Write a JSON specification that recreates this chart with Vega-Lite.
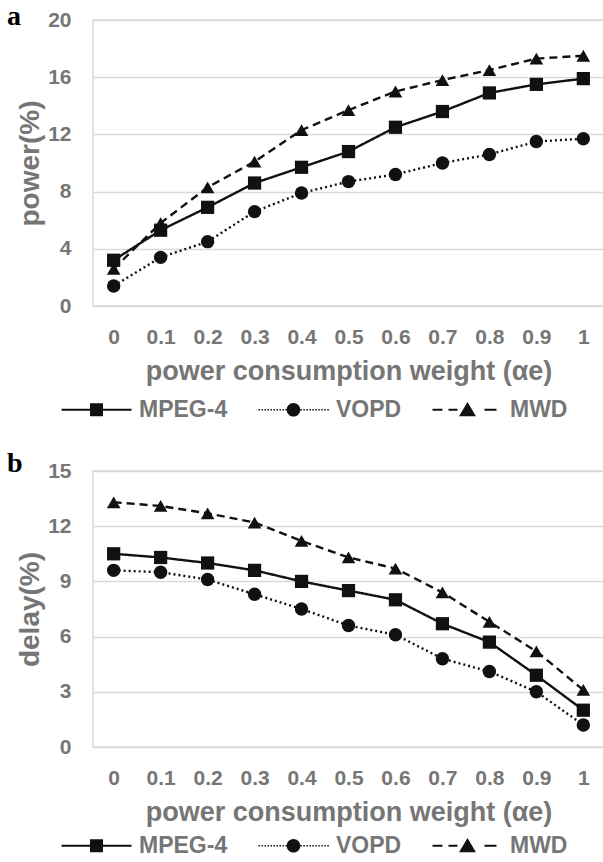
{
  "$schema": "https://vega.github.io/schema/vega-lite/v6.json",
  "background": "white",
  "padding": {"left": 6, "top": 2, "right": 0, "bottom": 0},
  "config": {
    "font": "Liberation Sans",
    "view": {"stroke": "#d9d9d9", "strokeWidth": 1.5},
    "concat": {"spacing": 26},
    "axis": {
      "labelFont": "Liberation Sans", "labelFontSize": 21, "labelFontWeight": "bold", "labelColor": "#767676",
      "titleFont": "Liberation Sans", "titleFontSize": 28, "titleFontWeight": "bold", "titleColor": "#767676",
      "domain": false, "ticks": false, "grid": false
    },
    "axisY": {"grid": true, "gridColor": "#d9d9d9", "gridWidth": 1.5, "labelPadding": 22, "titlePadding": 3},
    "axisX": {"labelPadding": 20, "titlePadding": 11, "labelAngle": 0, "titleFontSize": 27},
    "legend": {
      "labelFont": "Liberation Sans", "labelFontSize": 23, "labelFontWeight": "bold", "labelColor": "#767676",
      "padding": 0, "labelLimit": 300
    }
  },
  "datasets": {
    "power": [
      {"w": 0, "s": "MPEG-4", "v": 3.2}, {"w": 0.1, "s": "MPEG-4", "v": 5.3}, {"w": 0.2, "s": "MPEG-4", "v": 6.9}, {"w": 0.3, "s": "MPEG-4", "v": 8.6}, {"w": 0.4, "s": "MPEG-4", "v": 9.7}, {"w": 0.5, "s": "MPEG-4", "v": 10.8}, {"w": 0.6, "s": "MPEG-4", "v": 12.5}, {"w": 0.7, "s": "MPEG-4", "v": 13.6}, {"w": 0.8, "s": "MPEG-4", "v": 14.9}, {"w": 0.9, "s": "MPEG-4", "v": 15.5}, {"w": 1, "s": "MPEG-4", "v": 15.9},
      {"w": 0, "s": "VOPD", "v": 1.4}, {"w": 0.1, "s": "VOPD", "v": 3.4}, {"w": 0.2, "s": "VOPD", "v": 4.5}, {"w": 0.3, "s": "VOPD", "v": 6.6}, {"w": 0.4, "s": "VOPD", "v": 7.9}, {"w": 0.5, "s": "VOPD", "v": 8.7}, {"w": 0.6, "s": "VOPD", "v": 9.2}, {"w": 0.7, "s": "VOPD", "v": 10.0}, {"w": 0.8, "s": "VOPD", "v": 10.6}, {"w": 0.9, "s": "VOPD", "v": 11.5}, {"w": 1, "s": "VOPD", "v": 11.7},
      {"w": 0, "s": "MWD", "v": 2.6}, {"w": 0.1, "s": "MWD", "v": 5.8}, {"w": 0.2, "s": "MWD", "v": 8.3}, {"w": 0.3, "s": "MWD", "v": 10.1}, {"w": 0.4, "s": "MWD", "v": 12.3}, {"w": 0.5, "s": "MWD", "v": 13.7}, {"w": 0.6, "s": "MWD", "v": 15.0}, {"w": 0.7, "s": "MWD", "v": 15.8}, {"w": 0.8, "s": "MWD", "v": 16.5}, {"w": 0.9, "s": "MWD", "v": 17.3}, {"w": 1, "s": "MWD", "v": 17.5}
    ],
    "delay": [
      {"w": 0, "s": "MPEG-4", "v": 10.5}, {"w": 0.1, "s": "MPEG-4", "v": 10.3}, {"w": 0.2, "s": "MPEG-4", "v": 10.0}, {"w": 0.3, "s": "MPEG-4", "v": 9.6}, {"w": 0.4, "s": "MPEG-4", "v": 9.0}, {"w": 0.5, "s": "MPEG-4", "v": 8.5}, {"w": 0.6, "s": "MPEG-4", "v": 8.0}, {"w": 0.7, "s": "MPEG-4", "v": 6.7}, {"w": 0.8, "s": "MPEG-4", "v": 5.7}, {"w": 0.9, "s": "MPEG-4", "v": 3.9}, {"w": 1, "s": "MPEG-4", "v": 2.0},
      {"w": 0, "s": "VOPD", "v": 9.6}, {"w": 0.1, "s": "VOPD", "v": 9.5}, {"w": 0.2, "s": "VOPD", "v": 9.1}, {"w": 0.3, "s": "VOPD", "v": 8.3}, {"w": 0.4, "s": "VOPD", "v": 7.5}, {"w": 0.5, "s": "VOPD", "v": 6.6}, {"w": 0.6, "s": "VOPD", "v": 6.1}, {"w": 0.7, "s": "VOPD", "v": 4.8}, {"w": 0.8, "s": "VOPD", "v": 4.1}, {"w": 0.9, "s": "VOPD", "v": 3.0}, {"w": 1, "s": "VOPD", "v": 1.2},
      {"w": 0, "s": "MWD", "v": 13.3}, {"w": 0.1, "s": "MWD", "v": 13.1}, {"w": 0.2, "s": "MWD", "v": 12.7}, {"w": 0.3, "s": "MWD", "v": 12.2}, {"w": 0.4, "s": "MWD", "v": 11.2}, {"w": 0.5, "s": "MWD", "v": 10.3}, {"w": 0.6, "s": "MWD", "v": 9.7}, {"w": 0.7, "s": "MWD", "v": 8.4}, {"w": 0.8, "s": "MWD", "v": 6.8}, {"w": 0.9, "s": "MWD", "v": 5.2}, {"w": 1, "s": "MWD", "v": 3.1}
    ]
  },
  "vconcat": [
    {
      "width": 511, "height": 286,
      "title": {"text": "a", "anchor": "start", "frame": "group", "font": "Liberation Serif", "fontSize": 28, "fontWeight": "bold", "color": "#000000", "baseline": "alphabetic", "offset": 0, "dx": -86, "dy": 44},
      "data": {"name": "power"},
      "encoding": {
        "x": {"field": "w", "type": "ordinal", "scale": {"type": "point", "padding": 0.44}, "axis": {"title": "power consumption weight (αe)"}},
        "y": {"field": "v", "type": "quantitative", "scale": {"domain": [0, 20]}, "axis": {"values": [0, 4, 8, 12, 16, 20], "title": "power(%)"}}
      },
      "layer": [
        {
          "mark": {"type": "line", "color": "#111111", "strokeWidth": 2.4, "strokeCap": "butt"},
          "encoding": {"strokeDash": {"field": "s", "type": "nominal", "scale": {"domain": ["MPEG-4", "VOPD", "MWD"], "range": [[1, 0], [2, 3], [8, 5]]}, "legend": null}}
        },
        {
          "mark": {"type": "point", "filled": true, "color": "#111111", "opacity": 1},
          "encoding": {
            "shape": {"field": "s", "type": "nominal", "scale": {"domain": ["MPEG-4", "VOPD", "MWD"], "range": ["square", "circle", "triangle-up"]}, "legend": null},
            "size": {"field": "s", "type": "nominal", "scale": {"domain": ["MPEG-4", "VOPD", "MWD"], "range": [175, 185, 225]}, "legend": null}
          }
        },
        {
          "mark": {"type": "point", "filled": true, "color": "#111111", "opacity": 0},
          "encoding": {
            "shape": {"field": "s", "type": "nominal", "title": null,
              "scale": {"domain": ["MPEG-4", "VOPD", "MWD"], "range": [
                "M-5.38,-0.15H5.38V0.15H-5.38Z M-1,-1H1V1H-1Z",
                "M-5.38,-0.12h0.23v0.24h-0.23Z M-4.92,-0.12h0.23v0.24h-0.23Z M-4.46,-0.12h0.23v0.24h-0.23Z M-4,-0.12h0.23v0.24h-0.23Z M-3.54,-0.12h0.23v0.24h-0.23Z M-3.08,-0.12h0.23v0.24h-0.23Z M-2.62,-0.12h0.23v0.24h-0.23Z M-2.16,-0.12h0.23v0.24h-0.23Z M-1.7,-0.12h0.23v0.24h-0.23Z M-1.24,-0.12h0.23v0.24h-0.23Z M1.06,-0.12h0.23v0.24h-0.23Z M1.52,-0.12h0.23v0.24h-0.23Z M1.98,-0.12h0.23v0.24h-0.23Z M2.44,-0.12h0.23v0.24h-0.23Z M2.9,-0.12h0.23v0.24h-0.23Z M3.36,-0.12h0.23v0.24h-0.23Z M3.82,-0.12h0.23v0.24h-0.23Z M4.28,-0.12h0.23v0.24h-0.23Z M4.74,-0.12h0.23v0.24h-0.23Z M5.2,-0.12h0.23v0.24h-0.23Z M-1.05,0A1.05,1.05 0 1,1 1.05,0A1.05,1.05 0 1,1 -1.05,0Z",
                "M-5.38,-0.17H-3.85V0.17H-5.38Z M-2.92,-0.17H-1.54V0.17H-2.92Z M2.62,-0.17H4.46V0.17H2.62Z M0,-1.2L1.3,1H-1.3Z"
              ]},
              "legend": {"orient": "none", "legendX": -8, "legendY": 378, "direction": "horizontal", "symbolSize": 169, "symbolFillColor": "#111111", "symbolStrokeWidth": 0, "symbolOpacity": 1, "labelOffset": 31, "columnPadding": 30}
            }
          }
        }
      ],
      "resolve": {"scale": {"shape": "independent"}}
    },
    {
      "width": 511, "height": 276,
      "title": {"text": "b", "anchor": "start", "frame": "group", "font": "Liberation Serif", "fontSize": 28, "fontWeight": "bold", "color": "#000000", "baseline": "alphabetic", "offset": 0, "dx": -86, "dy": 40},
      "data": {"name": "delay"},
      "encoding": {
        "x": {"field": "w", "type": "ordinal", "scale": {"type": "point", "padding": 0.44}, "axis": {"title": "power consumption weight (αe)"}},
        "y": {"field": "v", "type": "quantitative", "scale": {"domain": [0, 15]}, "axis": {"values": [0, 3, 6, 9, 12, 15], "title": "delay(%)"}}
      },
      "layer": [
        {
          "mark": {"type": "line", "color": "#111111", "strokeWidth": 2.4, "strokeCap": "butt"},
          "encoding": {"strokeDash": {"field": "s", "type": "nominal", "scale": {"domain": ["MPEG-4", "VOPD", "MWD"], "range": [[1, 0], [2, 3], [8, 5]]}, "legend": null}}
        },
        {
          "mark": {"type": "point", "filled": true, "color": "#111111", "opacity": 1},
          "encoding": {
            "shape": {"field": "s", "type": "nominal", "scale": {"domain": ["MPEG-4", "VOPD", "MWD"], "range": ["square", "circle", "triangle-up"]}, "legend": null},
            "size": {"field": "s", "type": "nominal", "scale": {"domain": ["MPEG-4", "VOPD", "MWD"], "range": [175, 185, 225]}, "legend": null}
          }
        },
        {
          "mark": {"type": "point", "filled": true, "color": "#111111", "opacity": 0},
          "encoding": {
            "shape": {"field": "s", "type": "nominal", "title": null,
              "scale": {"domain": ["MPEG-4", "VOPD", "MWD"], "range": [
                "M-5.38,-0.15H5.38V0.15H-5.38Z M-1,-1H1V1H-1Z",
                "M-5.38,-0.12h0.23v0.24h-0.23Z M-4.92,-0.12h0.23v0.24h-0.23Z M-4.46,-0.12h0.23v0.24h-0.23Z M-4,-0.12h0.23v0.24h-0.23Z M-3.54,-0.12h0.23v0.24h-0.23Z M-3.08,-0.12h0.23v0.24h-0.23Z M-2.62,-0.12h0.23v0.24h-0.23Z M-2.16,-0.12h0.23v0.24h-0.23Z M-1.7,-0.12h0.23v0.24h-0.23Z M-1.24,-0.12h0.23v0.24h-0.23Z M1.06,-0.12h0.23v0.24h-0.23Z M1.52,-0.12h0.23v0.24h-0.23Z M1.98,-0.12h0.23v0.24h-0.23Z M2.44,-0.12h0.23v0.24h-0.23Z M2.9,-0.12h0.23v0.24h-0.23Z M3.36,-0.12h0.23v0.24h-0.23Z M3.82,-0.12h0.23v0.24h-0.23Z M4.28,-0.12h0.23v0.24h-0.23Z M4.74,-0.12h0.23v0.24h-0.23Z M5.2,-0.12h0.23v0.24h-0.23Z M-1.05,0A1.05,1.05 0 1,1 1.05,0A1.05,1.05 0 1,1 -1.05,0Z",
                "M-5.38,-0.17H-3.85V0.17H-5.38Z M-2.92,-0.17H-1.54V0.17H-2.92Z M2.62,-0.17H4.46V0.17H2.62Z M0,-1.2L1.3,1H-1.3Z"
              ]},
              "legend": {"orient": "none", "legendX": -8, "legendY": 363, "direction": "horizontal", "symbolSize": 169, "symbolFillColor": "#111111", "symbolStrokeWidth": 0, "symbolOpacity": 1, "labelOffset": 31, "columnPadding": 30}
            }
          }
        }
      ],
      "resolve": {"scale": {"shape": "independent"}}
    }
  ]
}
